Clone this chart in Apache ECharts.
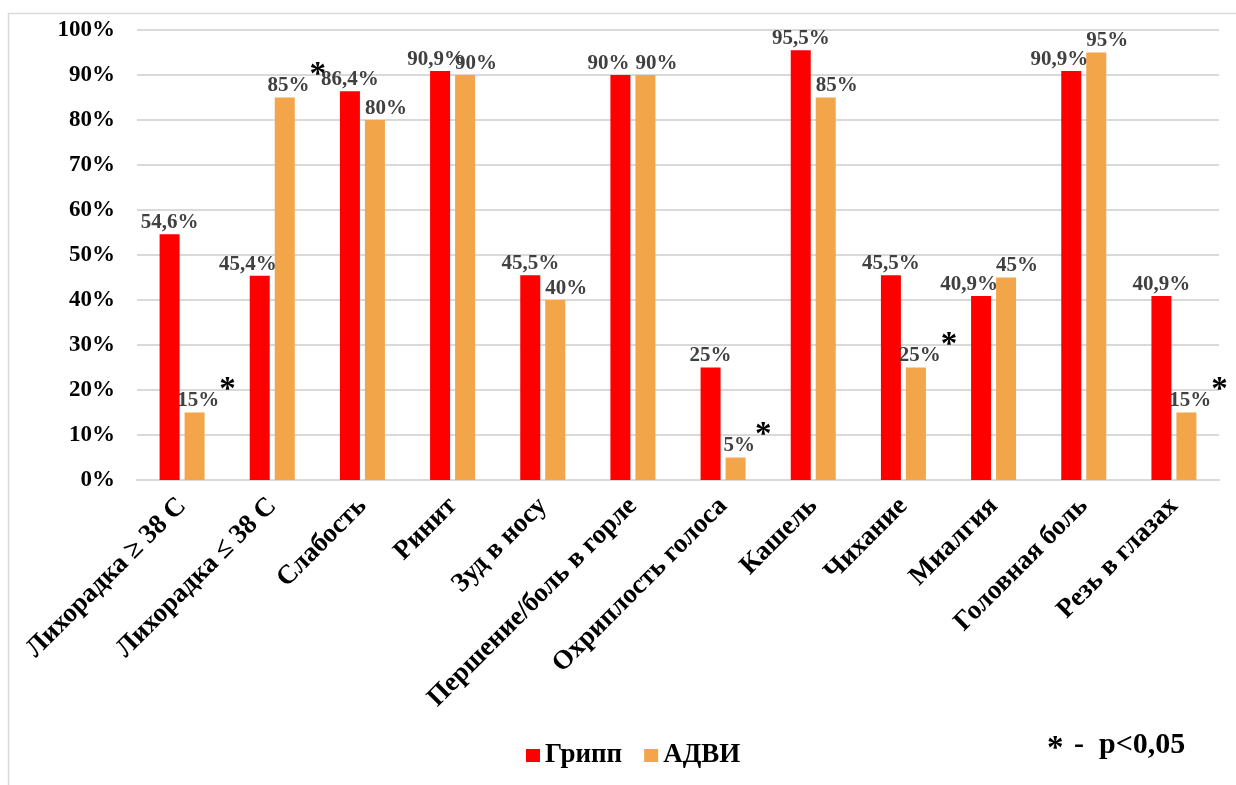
<!DOCTYPE html>
<html>
<head>
<meta charset="utf-8">
<script src="https://cdn.jsdelivr.net/npm/echarts@6/dist/echarts.min.js"></script>
<style>
  html, body { margin: 0; padding: 0; background: #fff; }
  #chart { width: 1236px; height: 785px; }
</style>
</head>
<body>
<div id="chart"></div>
<script>
// Symptom frequency: influenza vs. adenovirus infection (АДВИ)
const categories = [
  'Лихорадка ≥ 38 С', 'Лихорадка ≤ 38 С', 'Слабость', 'Ринит', 'Зуд в носу',
  'Першение/боль в горле', 'Охриплость голоса', 'Кашель', 'Чихание', 'Миалгия',
  'Головная боль', 'Резь в глазах'
];
const seriesNames = ['Грипп', 'АДВИ'];
const fluValues = [54.6, 45.4, 86.4, 90.9, 45.5, 90, 25, 95.5, 45.5, 40.9, 90.9, 40.9];
const adviValues = [15, 85, 80, 90, 40, 90, 5, 85, 25, 45, 95, 15];
// p < 0.05 between groups
const significant = [true, true, false, false, false, false, true, false, true, false, false, true];
const yTicks = [0, 10, 20, 30, 40, 50, 60, 70, 80, 90, 100];
const footnoteMark = '*';
const footnoteText = ' -  p<0,05';

const FONT = '"Liberation Serif", "Times New Roman", serif';
const RED = '#ff0000';
const ORANGE = '#f3a54a';
const GRID = '#d9d9d9';

function pct(v) {
  return (Number.isInteger(v) ? String(v) : String(v).replace('.', ',')) + '%';
}

// Labels of neighbouring bars are nudged apart so they do not sit on the other bar
function fluShift(i) {
  const d = adviValues[i] - fluValues[i];
  if (d >= 0) return -12;
  if (d > -2) return -4;
  return 0;
}
const fluData = fluValues.map((v, i) => ({
  value: v,
  label: { offset: [fluShift(i), 0] }
}));
const adviData = adviValues.map((v, i) => ({
  value: v,
  label: { offset: [significant[i] ? 12 : 11, 0] }
}));

const valueLabel = {
  show: true,
  position: 'top',
  distance: 1,
  fontFamily: FONT,
  fontWeight: 'bold',
  fontSize: 21,
  color: '#404040'
};

const chart = echarts.init(document.getElementById('chart'), null, { renderer: 'canvas' });
chart.setOption({
  animation: false,
  backgroundColor: '#ffffff',
  textStyle: { fontFamily: FONT },
  grid: { left: 137, right: 17, top: 30, bottom: 305, containLabel: false },
  legend: {
    data: seriesNames,
    left: 521,
    top: 737,
    itemWidth: 14,
    itemHeight: 13,
    itemGap: 22,
    icon: 'rect',
    textStyle: { fontFamily: FONT, fontWeight: 'bold', fontSize: 27, color: '#000' }
  },
  xAxis: {
    type: 'category',
    data: categories,
    axisLine: { show: true, lineStyle: { color: GRID, width: 2 } },
    axisTick: { show: false },
    axisLabel: {
      interval: 0,
      rotate: 45,
      margin: 22,
      fontFamily: FONT,
      fontWeight: 'bold',
      fontSize: 27,
      color: '#000'
    }
  },
  yAxis: {
    type: 'value',
    min: yTicks[0],
    max: yTicks[yTicks.length - 1],
    interval: yTicks[1] - yTicks[0],
    axisLine: { show: false },
    axisTick: { show: false },
    axisLabel: {
      margin: 22,
      formatter: '{value}%',
      fontFamily: FONT,
      fontWeight: 'bold',
      fontSize: 23,
      color: '#000'
    },
    splitLine: { lineStyle: { color: GRID, width: 2 } }
  },
  series: [
    {
      name: seriesNames[0],
      type: 'bar',
      data: fluData,
      barWidth: 20,
      barGap: '25%',
      itemStyle: { color: RED },
      label: Object.assign({}, valueLabel, {
        formatter: p => pct(p.value)
      })
    },
    {
      name: seriesNames[1],
      type: 'bar',
      data: adviData,
      barWidth: 20,
      barGap: '25%',
      itemStyle: { color: ORANGE },
      label: Object.assign({}, valueLabel, {
        formatter: p => significant[p.dataIndex]
          ? '{v|' + pct(p.value) + '}{s|*}'
          : '{v|' + pct(p.value) + '}',
        rich: {
          v: { fontFamily: FONT, fontWeight: 'bold', fontSize: 21, color: '#404040', verticalAlign: 'bottom' },
          s: { fontFamily: FONT, fontWeight: 'bold', fontSize: 33, color: '#000', verticalAlign: 'bottom', padding: [0, 0, 5, 0] }
        }
      })
    }
  ],
  graphic: [
    {
      type: 'rect',
      silent: true,
      shape: { x: 8.5, y: 13.5, width: 1260, height: 800 },
      style: { fill: 'none', stroke: GRID, lineWidth: 1.5 }
    },
    {
      type: 'text',
      left: 1047,
      top: 730,
      style: {
        text: '{s|' + footnoteMark + '}{t|' + footnoteText + '}',
        rich: {
          s: { fontFamily: FONT, fontWeight: 'bold', fontSize: 33, fill: '#000', verticalAlign: 'bottom' },
          t: { fontFamily: FONT, fontWeight: 'bold', fontSize: 30, fill: '#000', verticalAlign: 'bottom', padding: [0, 0, 6, 3] }
        }
      }
    }
  ]
});
</script>
</body>
</html>
